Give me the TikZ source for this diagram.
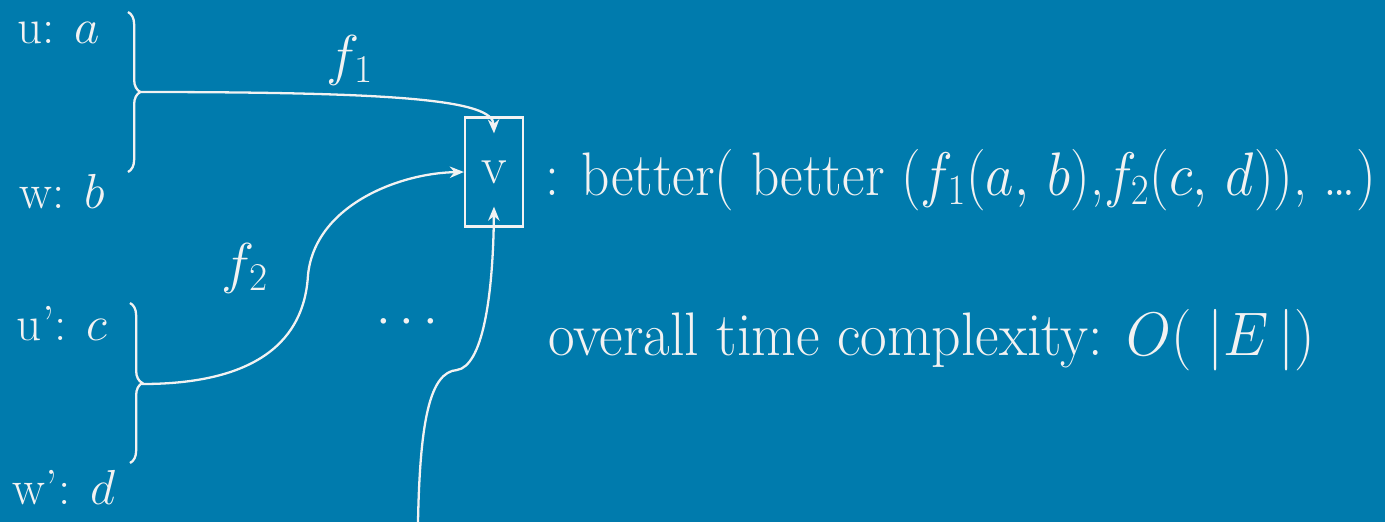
\documentclass[tikz,border=0pt]{standalone}
\usepackage{fix-cm}
\usetikzlibrary{decorations.pathreplacing,calc,arrows.meta}

\definecolor{slidebg}{RGB}{0,123,173}
\definecolor{chalk}{RGB}{242,242,242}

\tikzset{
  lbl/.style={text=chalk, inner sep=0pt, font=\fontsize{28}{32}\selectfont},
  big/.style={text=chalk, inner sep=0pt, font=\fontsize{35}{40}\selectfont},
  arr/.style={draw=chalk, line width=1.3pt, -{Stealth[length=8pt,width=6.5pt]}},
  grp/.style={draw=chalk, line width=1.3pt, decorate, decoration={brace, amplitude=7pt}},
}

\begin{document}
\begin{tikzpicture}[x=0.02cm, y=-0.02cm]
    \fill[slidebg] (0,0) rectangle (1385,522);
    \useasboundingbox (0,0) rectangle (1385,522);

    % vertex labels
    \node[lbl] (u)  at (59,33)  {u: $a$};
    \node[lbl] (w)  at (62,192) {w: $b$};
    \node[lbl] (u2) at (62,324) {u': $c$};
    \node[lbl] (w2) at (64,488) {w': $d$};

    % the two pairs
    \draw[grp] (128,12) -- (128,172);
    \draw[grp] (130,303) -- (130,463);
    \coordinate (t1) at (140,92);
    \coordinate (t2) at (142,384);

    % target vertex
    \node[draw=chalk, line width=1.3pt, minimum width=33pt, minimum height=62pt,
          text=chalk, font=\fontsize{30}{34}\selectfont] (v) at (494,172) {v};

    % incoming edges
    \draw[arr] (t1) .. controls (400,92) and (493,100) .. ($(v.north)+(0,17)$);
    \draw[arr] (t2) .. controls (270,384) and (305,330) .. (308,275)
               .. controls (315,205) and (400,173) .. (v.west);
    \coordinate (s3) at (418,522);
    \draw[arr] (s3) .. controls (420,420) and (430,372) .. (457,370)
               .. controls (482,366) and (493,300) .. ($(v.south)+(0,-21)$);

    \node[lbl, font=\fontsize{32}{36}\selectfont] (f1) at (350,60) {$f_1$};
    \node[lbl, font=\fontsize{32}{36}\selectfont] (f2) at (245,268) {$f_2$};
    \node[lbl, font=\fontsize{30}{34}\selectfont] (dots) at (407,323) {$\cdots$};

    % what v gets, and the cost
    \node[big, anchor=west] (eq) at (545,180)
        {\scalebox{0.9}[1]{: better( better ($f_1(a,\,b)$,$f_2(c,\,d)$), \ldots)}};
    \node[big, anchor=west] (cost) at (548,340)
        {\scalebox{0.94}[1]{overall time complexity: $O(\;|E\,|)$}};
\end{tikzpicture}
\end{document}
